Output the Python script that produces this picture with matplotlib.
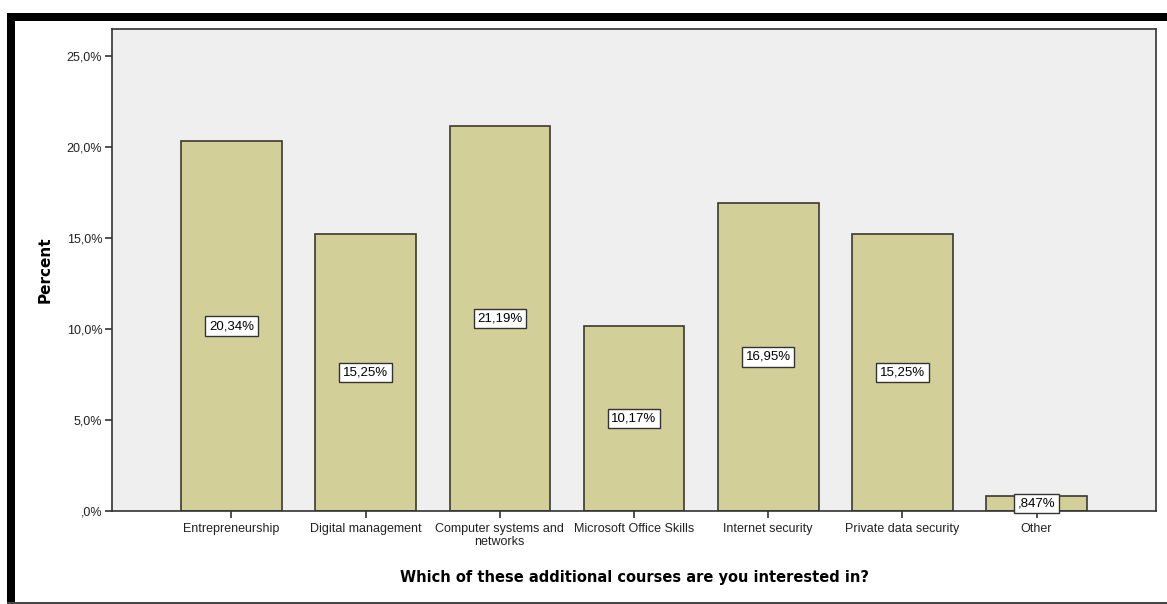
import matplotlib.pyplot as plt
from matplotlib.patches import Rectangle

courses = ['Entrepreneurship', 'Digital management', 'Computer systems and\nnetworks',
           'Microsoft Office Skills', 'Internet security', 'Private data security', 'Other']
percents = [20.34, 15.25, 21.19, 10.17, 16.95, 15.25, 0.847]
labels = ['20,34%', '15,25%', '21,19%', '10,17%', '16,95%', '15,25%', ',847%']
yticks = [0, 5, 10, 15, 20, 25]
ytick_labels = [',0%', '5,0%', '10,0%', '15,0%', '20,0%', '25,0%']

plt.rcParams['font.family'] = ['Liberation Sans', 'DejaVu Sans']

fig = plt.figure(figsize=(11.67, 6.04), dpi=100)
ax = fig.add_axes([0.096, 0.154, 0.8946, 0.798])
ax.set_facecolor('#efefef')

x = list(range(len(courses)))
ax.bar(x, percents, width=0.75, color='#d3cf99', edgecolor='#3a3a30', linewidth=1.2, zorder=2)

# value labels in boxes at mid-height of each bar
for xi, v, lab in zip(x, percents, labels):
	ax.text(xi, v / 2, lab, ha='center', va='center', fontsize=9.5, zorder=3,
		bbox=dict(boxstyle='square,pad=0.28', facecolor='white', edgecolor='#333333', linewidth=1))

ax.set_xlim(-0.89, 6.89)
ax.set_ylim(0, 26.5)
ax.set_xticks(x)
ax.set_xticklabels(courses, fontsize=9, color='#222222', linespacing=1.1)
ax.set_yticks(yticks)
ax.set_yticklabels(ytick_labels, fontsize=9, color='#222222')
ax.tick_params(length=5, width=1.2, color='#333333')
ax.tick_params(axis='y', pad=2)

for s in ax.spines.values():
	s.set_color('#333333')
	s.set_linewidth(1.2)

ax.set_ylabel('Percent', fontsize=11, fontweight='bold', family='DejaVu Sans', labelpad=10)
ax.set_xlabel('Which of these additional courses are you interested in?', fontsize=10.5,
	fontweight='bold', family='DejaVu Sans', labelpad=16)

# black frame around the screenshot
fig.patches.append(Rectangle((7 / 1167, 0), 8 / 1167, 1 - 13 / 604, transform=fig.transFigure,
	facecolor='black', edgecolor='none'))
fig.patches.append(Rectangle((7 / 1167, 1 - 21 / 604), 1 - 7 / 1167, 8 / 604, transform=fig.transFigure,
	facecolor='black', edgecolor='none'))
fig.patches.append(Rectangle((7 / 1167, 0), 1 - 7 / 1167, 2 / 604, transform=fig.transFigure,
	facecolor='#444444', edgecolor='none'))

fig.savefig('out.png', dpi=100)
